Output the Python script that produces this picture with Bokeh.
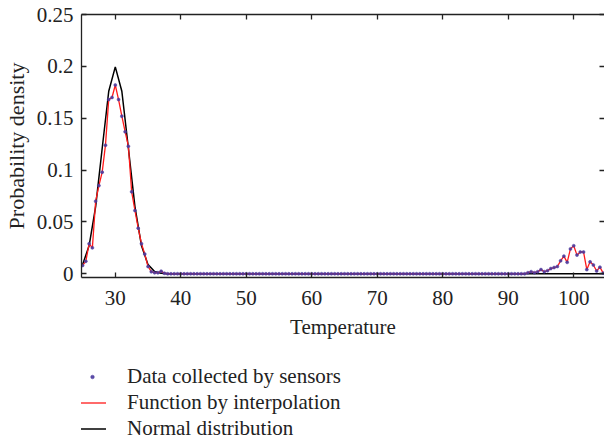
import numpy as np
from bokeh.plotting import figure
from bokeh.layouts import column
from bokeh.models import (LinearAxis, Range1d, FixedTicker, Legend, LegendItem)
from bokeh.embed import file_html
from bokeh.resources import INLINE

FONT = "Liberation Serif"

# ---- data -------------------------------------------------------------
temps = np.arange(25.0, 105.01, 0.5)          # sampling grid of the sensors (0.5 degree)
sensor_density = [
    0.008, 0.012, 0.029, 0.025, 0.070, 0.085, 0.098, 0.124, 0.168, 0.170,   # 25 - 29.5
    0.182, 0.168, 0.152, 0.137, 0.123, 0.079, 0.061, 0.044, 0.029, 0.019,   # 30 - 34.5
    0.007, 0.002, 0.001, 0.001, 0.0025, 0.0005,                             # 35 - 37.5
    0, 0, 0, 0, 0, 0, 0, 0, 0, 0,                                           # 38 - 42.5
    0, 0, 0, 0, 0, 0, 0, 0, 0, 0,                                           # 43 - 47.5
    0, 0, 0, 0, 0, 0, 0, 0, 0, 0,                                           # 48 - 52.5
    0, 0, 0, 0, 0, 0, 0, 0, 0, 0,                                           # 53 - 57.5
    0, 0, 0, 0, 0, 0, 0, 0, 0, 0,                                           # 58 - 62.5
    0, 0, 0, 0, 0, 0, 0, 0, 0, 0,                                           # 63 - 67.5
    0, 0, 0, 0, 0, 0, 0, 0, 0, 0,                                           # 68 - 72.5
    0, 0, 0, 0, 0, 0, 0, 0, 0, 0,                                           # 73 - 77.5
    0, 0, 0, 0, 0, 0, 0, 0, 0, 0,                                           # 78 - 82.5
    0, 0, 0, 0, 0, 0, 0, 0, 0, 0,                                           # 83 - 87.5
    0, 0, 0, 0, 0, 0, 0, 0, 0, 0,                                           # 88 - 92.5
    0.001, 0.002, 0.001, 0.002, 0.004, 0.002, 0.003, 0.005, 0.006, 0.007,   # 93 - 97.5
    0.0125, 0.017, 0.011, 0.024, 0.027, 0.018, 0.021, 0.021, 0.004, 0.0115, # 98 - 102.5
    0.0085, 0.0027, 0.0064, 0.0006, 0.0,                                    # 103 - 105
]

normal_temps = np.arange(25, 106)             # integer grid of the fitted normal curve
normal_density = [
    0.0088, 0.0270, 0.0648, 0.1210, 0.1760, 0.1995, 0.1760, 0.1210, 0.0648, 0.0270,  # 25 - 34
    0.0088, 0.0022, 0.0004, 0.0001, 0, 0, 0, 0, 0, 0,                                 # 35 - 44
    0, 0, 0, 0, 0, 0, 0, 0, 0, 0,                                                     # 45 - 54
    0, 0, 0, 0, 0, 0, 0, 0, 0, 0,                                                     # 55 - 64
    0, 0, 0, 0, 0, 0, 0, 0, 0, 0,                                                     # 65 - 74
    0, 0, 0, 0, 0, 0, 0, 0, 0, 0,                                                     # 75 - 84
    0, 0, 0, 0, 0, 0, 0, 0, 0, 0,                                                     # 85 - 94
    0, 0, 0, 0, 0, 0, 0, 0, 0, 0,                                                     # 95 - 104
    0,                                                                                # 105
]

x_ticks = [30, 40, 50, 60, 70, 80, 90, 100]
x_tick_labels = ["30", "40", "50", "60", "70", "80", "90", "100"]
y_ticks = [0, 0.05, 0.1, 0.15, 0.2, 0.25]
y_tick_labels = ["0", "0.05", "0.1", "0.15", "0.2", "0.25"]

legend_labels = ["Data collected by sensors", "Function by interpolation", "Normal distribution"]

DOT_COLOR = "#4a3a9e"
RED = "#ff1a1a"
TXT = "#222222"

# ---- main figure ------------------------------------------------------
p = figure(width=604, height=345, output_backend="svg", toolbar_location=None,
           x_range=Range1d(24.84, 104.7), y_range=Range1d(-0.0036, 0.25),
           x_axis_location=None, y_axis_location=None,
           min_border_left=78, min_border_right=0, min_border_top=14, min_border_bottom=68)
p.outline_line_color = None
p.xgrid.visible = False
p.ygrid.visible = False
p.background_fill_color = "white"
p.border_fill_color = "white"

xt = FixedTicker(ticks=x_ticks)
yt = FixedTicker(ticks=y_ticks)


def style(ax, size="21px"):
    ax.axis_line_color = TXT
    ax.axis_line_width = 1.3
    ax.major_tick_line_color = TXT
    ax.major_tick_line_width = 1.3
    ax.major_tick_in = 5
    ax.major_tick_out = 0
    ax.minor_tick_line_color = None
    ax.major_label_text_font = FONT
    ax.major_label_text_color = TXT
    ax.major_label_text_font_size = size


bottom = LinearAxis(ticker=xt, major_label_overrides=dict(zip(x_ticks, x_tick_labels)),
                    axis_label="Temperature")
style(bottom)
bottom.major_label_standoff = 13
bottom.axis_label_text_font = FONT
bottom.axis_label_text_font_size = "21px"
bottom.axis_label_text_font_style = "normal"
bottom.axis_label_text_color = TXT
bottom.axis_label_standoff = 7
p.add_layout(bottom, "below")

left = LinearAxis(ticker=yt, major_label_overrides=dict(zip(y_ticks, y_tick_labels)),
                  axis_label="Probability density")
style(left)
left.major_label_standoff = 8
left.axis_label_text_font = FONT
left.axis_label_text_font_size = "22px"
left.axis_label_text_font_style = "normal"
left.axis_label_text_color = TXT
left.axis_label_standoff = 5
p.add_layout(left, "left")

top = LinearAxis(ticker=xt, major_label_overrides={t: "" for t in x_ticks})
style(top, "1px")
top.major_label_standoff = 0
p.add_layout(top, "above")

right = LinearAxis(ticker=yt, major_label_overrides={t: "" for t in y_ticks})
style(right, "1px")
right.major_label_standoff = 0
right.axis_line_color = None
p.add_layout(right, "right")

p.line(normal_temps, normal_density, line_color="black", line_width=1.5)
p.line(temps, sensor_density, line_color=RED, line_width=1.3)
p.scatter(temps, sensor_density, size=3, fill_color=DOT_COLOR,
          line_color=DOT_COLOR, line_alpha=0.5, fill_alpha=0.9)

# ---- legend strip (same series, drawn outside its view so only keys show) ----
lg = figure(width=604, height=96, output_backend="svg", toolbar_location=None,
            x_range=Range1d(-10, -5), y_range=Range1d(-10, -5),
            x_axis_location=None, y_axis_location=None,
            min_border_left=0, min_border_right=0, min_border_top=0, min_border_bottom=0)
lg.outline_line_color = None
lg.xgrid.visible = False
lg.ygrid.visible = False
lg.background_fill_color = "white"
lg.border_fill_color = "white"

k_norm = lg.line(normal_temps, normal_density, line_color="black", line_width=1.5)
k_interp = lg.line(temps, sensor_density, line_color=RED, line_width=1.3)
k_dots = lg.scatter(temps, sensor_density, size=3, fill_color=DOT_COLOR,
                    line_color=DOT_COLOR, line_alpha=0.5, fill_alpha=0.9)

legend = Legend(items=[LegendItem(label=legend_labels[0], renderers=[k_dots]),
                       LegendItem(label=legend_labels[1], renderers=[k_interp]),
                       LegendItem(label=legend_labels[2], renderers=[k_norm])],
                location=(-3, 0), orientation="vertical", padding=0, margin=0,
                spacing=1, glyph_width=28, glyph_height=9, label_height=20,
                label_standoff=21, label_text_font=FONT, label_text_font_size="21px",
                label_text_color=TXT,
                background_fill_alpha=0, border_line_alpha=0)
lg.add_layout(legend)

layout = column(p, lg, spacing=0)
open("out.html", "w").write(file_html(layout, INLINE))
